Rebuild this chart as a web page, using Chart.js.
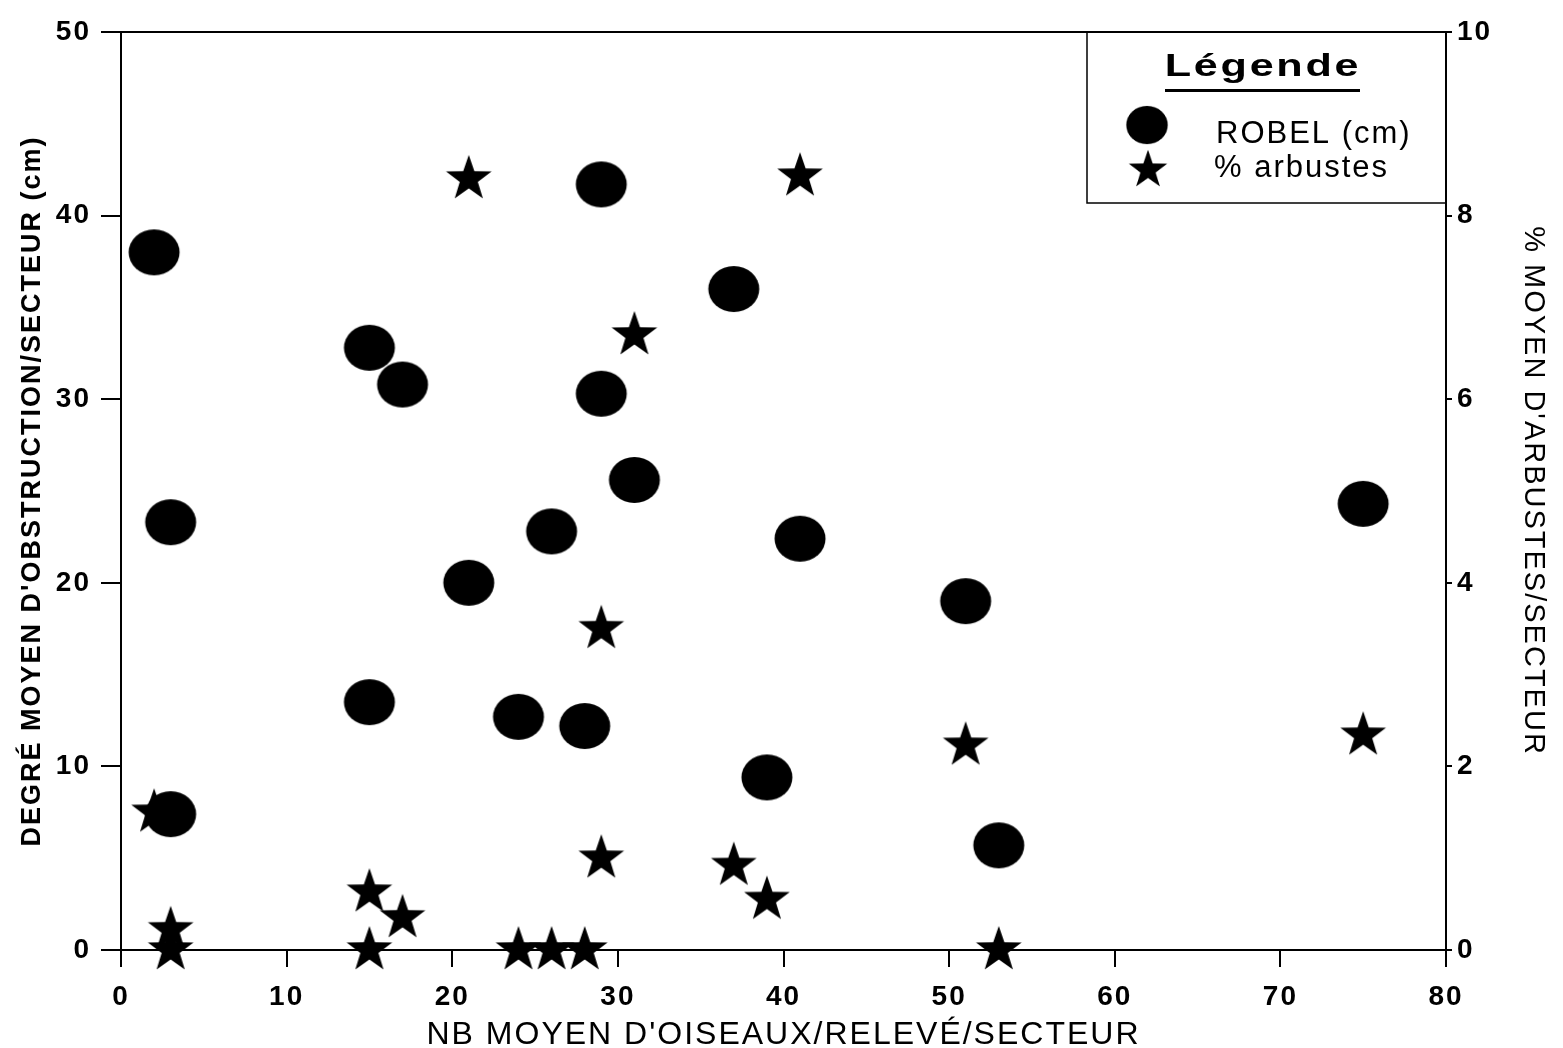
<!DOCTYPE html>
<html>
<head>
<meta charset="utf-8">
<script src="https://cdn.jsdelivr.net/npm/chart.js@4"></script>
<style>
  html, body { margin: 0; background: #fff; }
  #wrap { width: 1563px; height: 1048px; }
</style>
</head>
<body>
<div id="wrap"><canvas id="c" width="1563" height="1048"></canvas></div>
<script>
// --- DATA ---
const sectorBirds = [2, 3, 3, 15, 15, 17, 21, 24, 26, 28, 29, 29, 31, 37, 39, 41, 51, 53, 75];
const robelCm     = [38.0, 23.3, 7.4, 32.8, 13.5, 30.8, 20.0, 12.7, 22.8, 12.2, 41.7, 30.3, 25.6, 36.0, 9.4, 22.4, 19.0, 5.7, 24.3];
const shrubPct    = [1.5, 0.22, 0, 0.63, 0, 0.35, 8.4, 0, 0, 0, 3.5, 1.0, 6.7, 0.92, 0.55, 8.43, 2.23, 0, 2.34];
const xTicks  = [0, 10, 20, 30, 40, 50, 60, 70, 80];
const yTicks  = [0, 10, 20, 30, 40, 50];
const y2Ticks = [0, 2, 4, 6, 8, 10];

const FONT = "'Liberation Sans', Arial, sans-serif";

// --- MARKERS ---
const dotImg = (() => {
    const c = document.createElement('canvas'); c.width = 54; c.height = 48;
    const g = c.getContext('2d');
    g.beginPath(); g.ellipse(27, 24, 25.5, 23, 0, 0, Math.PI * 2); g.fill();
    return c;
})();
const starImg = (() => {
    const c = document.createElement('canvas'); c.width = 50; c.height = 50;
    const g = c.getContext('2d');
    g.beginPath();
    for (let i = 0; i < 10; i++) {
        const r = i % 2 ? 9.5 : 24, a = -Math.PI / 2 + i * Math.PI / 5;
        g.lineTo(25 + r * Math.cos(a), 25 + r * Math.sin(a));
    }
    g.closePath(); g.fill();
    return c;
})();

const useTicks = list => scale => { scale.ticks = list.map(v => ({ value: v })); };

// frame, spacing and the boxed legend
const decor = {
    id: 'decor',
    beforeDraw: chart => { chart.ctx.letterSpacing = '2px'; },
    afterDraw: chart => {
        const { ctx, chartArea: a } = chart;
        ctx.save();
        ctx.strokeStyle = '#000'; ctx.fillStyle = '#000';
        ctx.lineWidth = 2;
        ctx.beginPath(); ctx.moveTo(a.left, a.top); ctx.lineTo(a.right, a.top); ctx.stroke();

        const bx = 1087, by = a.top, bw = a.right - bx, bh = 203 - a.top;
        ctx.lineWidth = 1.5;
        ctx.strokeRect(bx, by, bw, bh);

        ctx.letterSpacing = '2px';
        ctx.textBaseline = 'alphabetic';
        ctx.save();
        ctx.translate(1263, 76); ctx.scale(1.35, 1);
        ctx.font = `bold 32px ${FONT}`; ctx.textAlign = 'center';
        ctx.fillText('Légende', 0, 0);
        ctx.restore();
        ctx.fillRect(1165, 89, 195, 3);

        ctx.drawImage(dotImg, 1147 - 22, 125 - 20, 44, 40);
        ctx.drawImage(starImg, 1148 - 21, 170 - 21, 42, 42);
        ctx.font = `31px ${FONT}`; ctx.textAlign = 'left';
        ctx.fillText('ROBEL (cm)', 1216, 143);
        ctx.fillText('% arbustes', 1214, 177);
        ctx.restore();
    }
};

const axisGrid = len => ({ display: true, drawOnChartArea: false, drawTicks: true, tickLength: len, color: '#000', lineWidth: 2 });
const axisBorder = { display: true, color: '#000', width: 2 };
const tickFont = { family: FONT, size: 28, weight: 'bold' };

new Chart(document.getElementById('c'), {
    type: 'scatter',
    data: {
        datasets: [
            { label: 'ROBEL (cm)', data: sectorBirds.map((x, i) => ({ x, y: robelCm[i] })), yAxisID: 'y',
              pointStyle: dotImg, order: 0, clip: false, backgroundColor: '#000', borderColor: '#000' },
            { label: '% arbustes', data: sectorBirds.map((x, i) => ({ x, y: shrubPct[i] })), yAxisID: 'y2',
              pointStyle: starImg, order: 1, clip: false, backgroundColor: '#000', borderColor: '#000' }
        ]
    },
    options: {
        responsive: false, animation: false,
        layout: { padding: { top: 32, left: 0, right: 0, bottom: 0 } },
        plugins: { legend: { display: false }, tooltip: { enabled: false } },
        scales: {
            x: {
                type: 'linear', min: 0, max: 80, afterBuildTicks: useTicks(xTicks),
                afterFit: s => { s.height = 98; },
                grid: axisGrid(17), border: axisBorder,
                ticks: { color: '#000', font: tickFont, padding: 13, maxRotation: 0, autoSkip: false },
                title: { display: true, text: "NB MOYEN D'OISEAUX/RELEVÉ/SECTEUR", color: '#000',
                         font: { family: FONT, size: 32, lineHeight: 0.8 }, padding: 0 }
            },
            y: {
                type: 'linear', position: 'left', min: 0, max: 50, afterBuildTicks: useTicks(yTicks),
                afterFit: s => { s.width = 121; },
                grid: axisGrid(20), border: axisBorder,
                ticks: { color: '#000', font: tickFont, padding: 10 },
                title: { display: true, text: "DEGRÉ MOYEN D'OBSTRUCTION/SECTEUR (cm)", color: '#000',
                         font: { family: FONT, size: 27, weight: 'bold', lineHeight: 1.2 }, padding: { top: 16, bottom: 0 } }
            },
            y2: {
                type: 'linear', position: 'right', min: 0, max: 10, afterBuildTicks: useTicks(y2Ticks),
                afterFit: s => { s.width = 117; },
                grid: axisGrid(6), border: axisBorder,
                ticks: { color: '#000', font: tickFont, padding: 5 },
                title: { display: true, text: "% MOYEN D'ARBUSTES/SECTEUR", color: '#000',
                         font: { family: FONT, size: 29, lineHeight: 1.2 }, padding: { top: 13, bottom: 0 } }
            }
        }
    },
    plugins: [decor]
});
</script>
</body>
</html>
